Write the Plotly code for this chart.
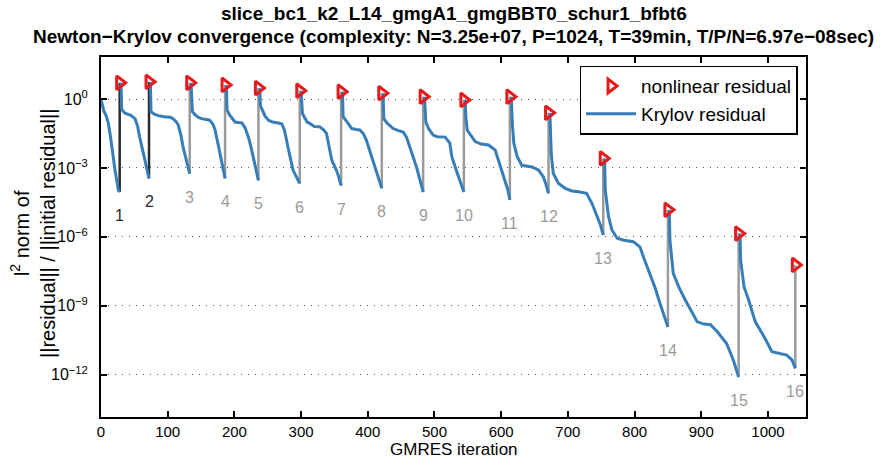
import numpy as np
import plotly.graph_objects as go

# ---------------- data ----------------
step_numbers = list(range(1, 17))
newton_iter = [28, 72, 133, 186, 236, 298, 360, 421, 483, 544, 613, 671, 753, 850, 956, 1041]
newton_res = [5.1, 5.6, 5.1, 4.1, 3.0, 2.3, 2.1, 1.8, 1.26, 0.91, 1.26, 0.25,
              2.6e-3, 1.5e-5, 1.4e-6, 6.0e-8]

krylov_iter = [
    [0, 2, 4, 8, 11, 14, 17, 21, 24, 26, 28],
    [30, 31, 36, 44, 51, 55, 58, 62, 66, 70, 72],
    [74, 75, 80, 86, 95, 104, 108, 113, 116, 120, 123, 128, 133],
    [135, 137, 141, 146, 151, 157, 163, 168, 171, 175, 178, 182, 186],
    [188, 189, 193, 197, 201, 206, 211, 216, 221, 225, 228, 232, 236],
    [238, 239, 242, 246, 251, 257, 264, 271, 275, 278, 283, 288, 292, 298],
    [300, 301, 302, 305, 309, 313, 320, 328, 334, 338, 342, 346, 353, 356, 360],
    [362, 363, 368, 373, 376, 383, 388, 393, 398, 404, 411, 416, 421],
    [423, 424, 429, 434, 438, 446, 453, 458, 463, 468, 473, 478, 483],
    [485, 486, 487, 491, 498, 504, 516, 523, 526, 531, 536, 540, 544],
    [546, 547, 549, 554, 561, 570, 581, 591, 596, 601, 606, 610, 613],
    [615, 616, 617, 619, 624, 631, 646, 656, 663, 667, 671],
    [673, 674, 675, 678, 686, 696, 706, 716, 728, 736, 744, 749, 753],
    [755, 756, 761, 766, 774, 784, 798, 808, 813, 823, 831, 838, 845, 850],
    [852, 853, 858, 866, 876, 884, 894, 904, 914, 924, 938, 948, 956],
    [958, 959, 964, 971, 981, 994, 1006, 1018, 1028, 1036, 1041],
]
krylov_res = [
    [1.0, 0.50, 0.32, 0.18, 8.9e-2, 2.5e-2, 5.0e-3, 7.9e-4, 2.5e-4, 1.1e-4, 8.9e-5],
    [5.1, 0.35, 0.24, 0.20, 0.14, 6.3e-2, 2.2e-2, 6.3e-3, 2.2e-3, 6.3e-4, 3.5e-4],
    [5.6, 0.28, 0.22, 0.19, 0.17, 0.16, 0.14, 0.10, 7.2e-2, 2.5e-2, 8.3e-3, 2.0e-3, 5.6e-4],
    [5.1, 0.28, 0.21, 0.16, 0.14, 0.13, 0.12, 7.9e-2, 4.5e-2, 1.3e-2, 4.3e-3, 1.3e-3, 3.5e-4],
    [4.1, 0.33, 0.20, 0.14, 0.10, 9.5e-2, 9.3e-2, 5.6e-2, 2.2e-2, 7.9e-3, 3.0e-3, 1.0e-3, 2.9e-4],
    [3.0, 0.50, 0.33, 0.18, 0.12, 0.10, 9.3e-2, 8.3e-2, 4.5e-2, 1.6e-2, 3.5e-3, 7.9e-4, 4.5e-4, 2.1e-4],
    [2.3, 0.32, 0.24, 0.16, 0.10, 8.7e-2, 6.3e-2, 6.2e-2, 4.5e-2, 3.2e-2, 7.9e-3, 2.2e-3, 7.9e-4, 4.5e-4, 1.7e-4],
    [2.1, 0.17, 0.11, 6.3e-2, 5.2e-2, 4.7e-2, 4.5e-2, 3.2e-2, 1.6e-2, 4.5e-3, 1.1e-3, 4.0e-4, 1.3e-4],
    [1.8, 0.14, 8.9e-2, 6.3e-2, 5.2e-2, 4.2e-2, 3.7e-2, 2.2e-2, 8.3e-3, 3.2e-3, 1.1e-3, 3.2e-4, 8.9e-5],
    [1.26, 0.25, 0.10, 5.2e-2, 2.7e-2, 2.3e-2, 2.2e-2, 1.2e-2, 3.1e-3, 1.1e-3, 4.1e-4, 2.0e-4, 8.9e-5],
    [0.91, 0.17, 4.5e-2, 2.7e-2, 1.4e-2, 1.1e-2, 1.0e-2, 6.0e-3, 2.2e-3, 7.9e-4, 3.0e-4, 1.1e-4, 4.0e-5],
    [1.26, 0.24, 6.3e-2, 1.2e-2, 3.1e-3, 1.3e-3, 1.1e-3, 8.1e-4, 4.2e-4, 2.0e-4, 7.9e-5],
    [0.25, 6.3e-2, 4.4e-3, 5.9e-4, 2.1e-4, 1.3e-4, 1.0e-4, 9.3e-5, 7.9e-5, 2.9e-5, 7.6e-6, 3.2e-6, 1.2e-6],
    [2.6e-3, 1.1e-4, 7.6e-6, 2.0e-6, 8.7e-7, 7.2e-7, 6.2e-7, 3.7e-7, 1.4e-7, 2.6e-8, 5.8e-9, 1.3e-9, 3.5e-10, 1.2e-10],
    [1.5e-5, 7.2e-7, 2.6e-8, 6.8e-9, 1.8e-9, 6.6e-10, 2.0e-10, 1.6e-10, 1.5e-10, 7.4e-11, 2.3e-11, 4.4e-12, 7.9e-13],
    [1.4e-6, 1.0e-7, 6.8e-9, 1.8e-9, 2.0e-10, 4.6e-11, 1.0e-11, 8.5e-12, 7.2e-12, 4.4e-12, 1.9e-12],
]

x_ticks = [0, 100, 200, 300, 400, 500, 600, 700, 800, 900, 1000]
y_ticks = [1e0, 1e-3, 1e-6, 1e-9, 1e-12]
y_tick_text = ["10<sup>0</sup>", "10<sup>−3</sup>", "10<sup>−6</sup>", "10<sup>−9</sup>", "10<sup>−12</sup>"]

title_line1 = "slice_bc1_k2_L14_gmgA1_gmgBBT0_schur1_bfbt6"
title_line2 = "Newton−Krylov convergence (complexity: N=3.25e+07, P=1024, T=39min, T/P/N=6.97e−08sec)"

# ---------------- styles ----------------
FONT = "Liberation Sans, Arial, Helvetica, sans-serif"
BLUE = "#377eb8"
RED = "#e41a1c"
DARK = "#2a2a2a"
GRAY = "#9a9a9a"
n_dark = 2

# ---------------- build traces ----------------
fig = go.Figure()

# vertical lines from final Krylov residual to new nonlinear residual
for color, idxs in ((DARK, range(0, n_dark)), (GRAY, range(n_dark, len(newton_iter)))):
    xs, ys = [], []
    for i in idxs:
        xs += [newton_iter[i], newton_iter[i], None]
        ys += [krylov_res[i][-1], newton_res[i], None]
    fig.add_trace(go.Scatter(x=xs, y=ys, mode="lines", line=dict(color=color, width=2.5),
                             showlegend=False, hoverinfo="skip"))

kx, ky = [], []
for it, rs in zip(krylov_iter, krylov_res):
    kx += list(it) + [None]
    ky += list(rs) + [None]
fig.add_trace(go.Scatter(x=kx, y=ky, mode="lines", name="Krylov residual",
                         line=dict(color=BLUE, width=3), legendrank=2))

fig.add_trace(go.Scatter(x=newton_iter, y=newton_res, mode="markers", name="nonlinear residual",
                         marker=dict(symbol="triangle-right-open", size=12, color=RED,
                                     line=dict(color=RED, width=3)),
                         legendrank=1))

# step numbers under each vertical line
annotations = []
for i, (s, it) in enumerate(zip(step_numbers, newton_iter)):
    annotations.append(dict(
        x=it, y=float(np.log10(krylov_res[i][-1])), xref="x", yref="y",
        text=str(s), showarrow=False, yanchor="top", xanchor="center", yshift=-13,
        font=dict(family=FONT, size=16, color=DARK if i < n_dark else GRAY)))

# title (two bold lines)
annotations.append(dict(
    x=0.5, y=1 + (57 - 14) / 360, xref="paper", yref="paper", showarrow=False,
    text="<b>" + title_line1 + "</b>", xanchor="center", yanchor="middle",
    font=dict(family=FONT, size=19, color="black")))
annotations.append(dict(
    x=0.5, y=1 + (57 - 37) / 360, xref="paper", yref="paper", showarrow=False,
    text="<b>" + title_line2 + "</b>", xanchor="center", yanchor="middle",
    font=dict(family=FONT, size=19, color="black")))

annotations.append(dict(
    x=-0.097, y=0.51, xref="paper", yref="paper", textangle=-90, showarrow=False,
    text="l<sup>2</sup> norm of<br>||residual|| / ||initial residual||",
    xanchor="center", yanchor="middle", font=dict(family=FONT, size=20, color="black")))
annotations.append(dict(
    x=0.5, y=-(461 - 417) / 360, xref="paper", yref="paper", showarrow=False,
    text="GMRES iteration",
    xanchor="center", yanchor="bottom", font=dict(family=FONT, size=17, color="black")))

fig.update_layout(
    width=889, height=461,
    margin=dict(l=101, r=83, t=57, b=44),
    paper_bgcolor="white", plot_bgcolor="white",
    font=dict(family=FONT, color="black"),
    showlegend=True,
    legend=dict(x=0.988, y=0.976, xanchor="right", yanchor="top",
                bgcolor="white", bordercolor="black", borderwidth=1.5,
                font=dict(family=FONT, size=19, color="black"),
                itemwidth=50, tracegroupgap=0),
    annotations=annotations,
)

fig.update_xaxes(
    range=[0, 1057], tickvals=x_ticks, ticktext=[str(v) for v in x_ticks],
    showline=True, linecolor="black", linewidth=2, mirror="ticks",
    ticks="inside", ticklen=6, tickwidth=1.5, tickcolor="black",
    showgrid=False, zeroline=False,
    tickfont=dict(family=FONT, size=15, color="black"), ticklabelstandoff=0)

fig.update_yaxes(
    type="log", range=[-13.84, 1.83], tickvals=y_ticks, ticktext=y_tick_text,
    showline=True, linecolor="black", linewidth=2, mirror="ticks",
    ticks="inside", ticklen=6, tickwidth=1.5, tickcolor="black",
    showgrid=True, gridcolor="#555555", gridwidth=1, griddash="1px,6px",
    zeroline=False,
    tickfont=dict(family=FONT, size=16, color="black"), ticklabelstandoff=8)

fig.write_html("out.html")
